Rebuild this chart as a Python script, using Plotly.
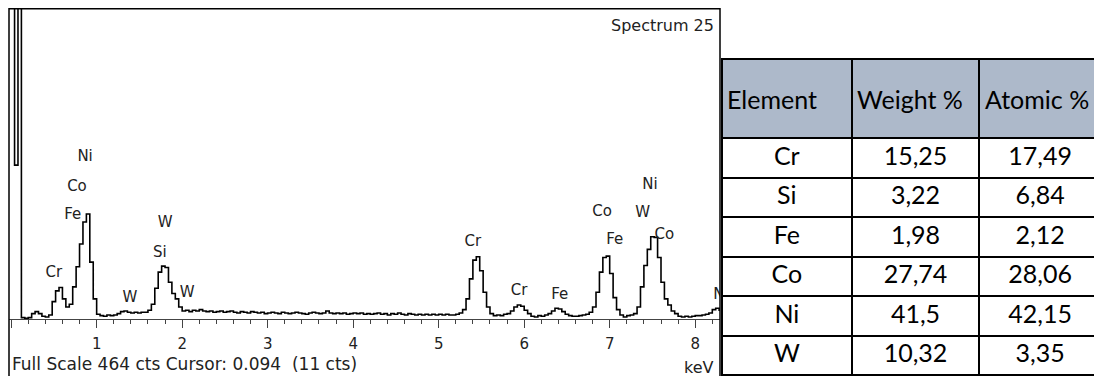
import plotly.graph_objects as go

# The page body has an 8 px margin, so the figure is made 8 px smaller and all
# layout positions below are given in window pixels and shifted by OFF.
WIN_W, WIN_H = 1102, 376
OFF = 8
W, H = WIN_W - OFF, WIN_H - OFF

# ---------------- spectrum data (counts per 0.04 keV channel) ----------------
E_START = 0.0
E_STEP = 0.04
counts = [
    700, 230, 700, 2, 1, 2, 8, 11, 8, 4,          # 0.00 - 0.36
    3, 6, 26, 42, 47, 30, 18, 22, 48, 78,         # 0.40 - 0.76
    112, 145, 157, 85, 30, 7, 5, 4, 6, 5,         # 0.80 - 1.16
    6, 8, 11, 12, 10, 9, 10, 9, 10, 10,           # 1.20 - 1.56
    13, 22, 46, 70, 79, 77, 55, 38, 30, 18,       # 1.60 - 1.96
    12, 13, 11, 13, 12, 14, 12, 11, 12, 10,       # 2.00 - 2.36
    11, 12, 10, 11, 12, 10, 9, 11, 10, 9,         # 2.40 - 2.76
    11, 10, 9, 10, 8, 9, 10, 9, 8, 10,            # 2.80 - 3.16
    9, 8, 9, 10, 9, 8, 7, 9, 10, 9,               # 3.20 - 3.56
    8, 9, 12, 9, 8, 9, 8, 9, 7, 8,                # 3.60 - 3.96
    9, 8, 9, 7, 8, 7, 8, 9, 7, 8,                 # 4.00 - 4.36
    6, 8, 7, 9, 7, 6, 8, 7, 6, 7,                 # 4.40 - 4.76
    6, 7, 6, 7, 6, 7, 6, 7, 6, 6,                 # 4.80 - 5.16
    7, 9, 14, 30, 60, 88, 93, 72, 40, 18,         # 5.20 - 5.56
    8, 5, 6, 5, 7, 8, 12, 18, 21, 19,             # 5.60 - 5.96
    13, 8, 4, 3, 5, 4, 6, 8, 12, 16,              # 6.00 - 6.36
    15, 11, 7, 5, 4, 4, 5, 6, 7, 10,              # 6.40 - 6.76
    18, 40, 70, 92, 94, 68, 32, 14, 6, 3,         # 6.80 - 7.16
    5, 6, 8, 18, 48, 80, 104, 123, 122, 92,       # 7.20 - 7.56
    55, 30, 21, 12, 8, 4, 3, 4, 3, 4,             # 7.60 - 7.96
    5, 5, 6, 7, 9, 14, 16, 12,                    # 8.00 - 8.28
]
energy = [round(E_START + i * E_STEP, 3) for i in range(len(counts))]

FULL_SCALE = 464

# peak labels
label_text = ["Ni", "Co", "Fe", "Cr", "W", "W", "Si", "W",
              "Cr", "Cr", "Fe", "Co", "Fe", "W", "Ni", "Co", "Ni"]
label_keV = [0.865, 0.77, 0.72, 0.50, 1.39, 1.80, 1.74, 2.06,
             5.40, 5.94, 6.415, 6.91, 7.06, 7.385, 7.47, 7.64, 8.30]
label_cts = [242, 197, 155, 68, 31, 143, 98, 38,
             114, 41, 36, 160, 117, 158, 200, 125, 36]

# quantification table
elements = ["Cr", "Si", "Fe", "Co", "Ni", "W"]
weight_pct = ["15,25", "3,22", "1,98", "27,74", "41,5", "10,32"]
atomic_pct = ["17,49", "6,84", "2,12", "28,06", "42,15", "3,35"]
table_header = ["Element", "Weight %", "Atomic %"]

# ---------------- helpers ----------------
def px(x):
    return (x - OFF) / W

def py(y):
    return 1 - (y - OFF) / H

TABLE_LEFT, TABLE_TOP = 722, 59       # window pixels
COL_W = [130, 128, 122]
HEADER_H = 79

fig = go.Figure()

fig.add_trace(go.Scatter(
    x=energy, y=counts, mode="lines",
    line=dict(color="black", width=1.6, shape="hv"),
    showlegend=False, hoverinfo="skip",
))

fig.add_trace(go.Scatter(
    x=label_keV, y=label_cts, mode="text", text=label_text,
    textposition="middle center",
    textfont=dict(family="DejaVu Sans", size=15, color="#222222"),
    cliponaxis=True, showlegend=False, hoverinfo="skip",
))

fig.add_trace(go.Table(
    domain=dict(x=[px(TABLE_LEFT), 1], y=[0, py(TABLE_TOP)]),
    columnwidth=COL_W,
    header=dict(
        values=["" for _ in table_header],   # header text drawn centred below
        fill_color="#ADB9CA",
        line=dict(color="black", width=2),
        align="left",
        height=HEADER_H,
        font=dict(family="Lato", size=25, color="black"),
    ),
    cells=dict(
        values=[elements, weight_pct, atomic_pct],
        fill_color="white",
        line=dict(color="black", width=2),
        align="center",
        height=39.5,
        font=dict(family="Lato", size=25, color="black"),
    ),
))

# header labels, vertically centred in the tall header row
col_left = TABLE_LEFT
for name, w in zip(table_header, COL_W):
    fig.add_annotation(text=name, xref="paper", yref="paper",
                       x=px(col_left + 3), y=py(TABLE_TOP + HEADER_H / 2 + 1),
                       xanchor="left", yanchor="middle", showarrow=False,
                       font=dict(family="Lato", size=25, color="black"))
    col_left += w

fig.update_xaxes(
    domain=[px(9), px(720)],
    range=[-0.025, 8.29],
    showgrid=False, zeroline=False,
    showline=True, linecolor="#444444", linewidth=1,
    ticks="outside", ticklen=8, tickcolor="#444444", tickwidth=1,
    tickvals=[0, 1, 2, 3, 4, 5, 6, 7, 8],
    ticktext=["0", "1", "2", "3", "4", "5", "6", "7", "8"],
    tickfont=dict(family="DejaVu Sans", size=15, color="#222222"),
    ticklabelstandoff=3,
    minor=dict(dtick=0.2, ticks="outside", ticklen=4, tickcolor="#444444", tickwidth=1),
    fixedrange=True,
)
fig.update_yaxes(
    domain=[py(319), py(8.5)],
    range=[0, FULL_SCALE],
    visible=False, fixedrange=True,
)

# window frame of the spectrum
fig.add_shape(type="rect", xref="paper", yref="paper",
              x0=px(9), x1=px(720), y0=-0.3, y1=py(8.7),
              line=dict(color="black", width=1.5), layer="above")

txt_font = dict(family="DejaVu Sans", size=16, color="#222222")
fig.add_annotation(text="Spectrum 25", xref="paper", yref="paper",
                   x=px(716), y=py(25), xanchor="right", yanchor="middle",
                   showarrow=False, font=txt_font)
fig.add_annotation(text="Full Scale 464 cts Cursor: 0.094 \u00a0(11 cts)", xref="paper", yref="paper",
                   x=px(10), y=py(364), xanchor="left", yanchor="middle",
                   showarrow=False, font=dict(family="DejaVu Sans", size=17, color="#222222"))
fig.add_annotation(text="keV", xref="paper", yref="paper",
                   x=px(716), y=py(367), xanchor="right", yanchor="middle",
                   showarrow=False, font=txt_font)

fig.update_layout(
    width=W, height=H,
    margin=dict(l=0, r=0, t=0, b=0),
    paper_bgcolor="white", plot_bgcolor="white",
    showlegend=False,
)

fig.write_html("out.html")
